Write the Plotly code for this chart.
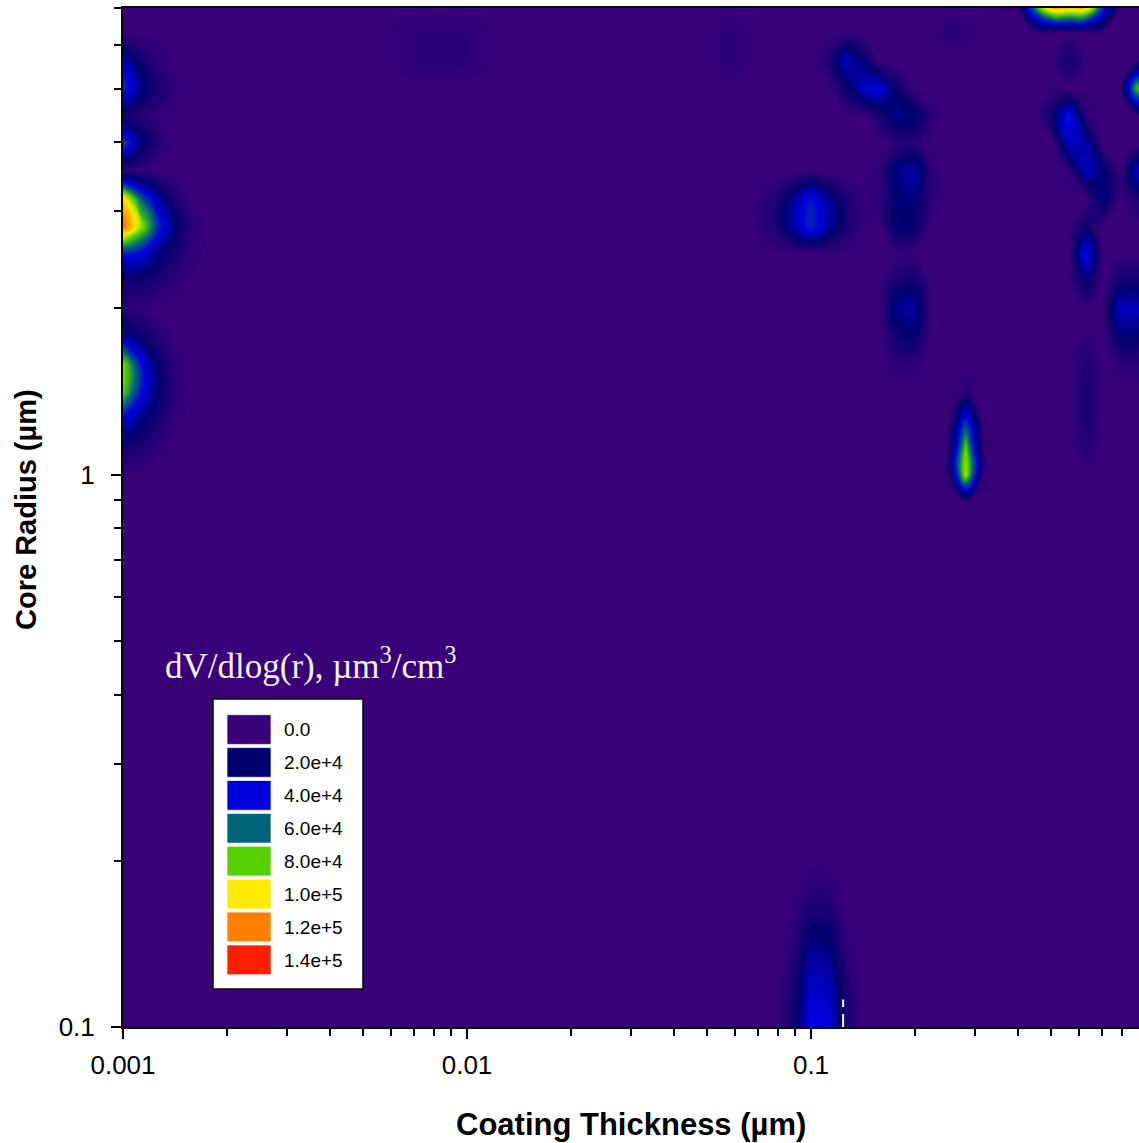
import math
import plotly.graph_objects as go

# ---------------- retrieval grid (bin centres, um) ----------------
thickness_um = [
    0.001000, 0.001122, 0.001259, 0.001413, 0.001585, 0.001778, 0.001995, 0.002239, 0.002512, 0.002818,
    0.003162, 0.003548, 0.003981, 0.004467, 0.005012, 0.005623, 0.006310, 0.007079, 0.007943, 0.008913,
    0.01000, 0.01122, 0.01259, 0.01413, 0.01585, 0.01778, 0.01995, 0.02239, 0.02512, 0.02818,
    0.03162, 0.03548, 0.03981, 0.04467, 0.05012, 0.05623, 0.06310, 0.07079, 0.07943, 0.08913,
    0.1000, 0.1122, 0.1259, 0.1413, 0.1585, 0.1778, 0.1995, 0.2239, 0.2512, 0.2818,
    0.3162, 0.3548, 0.3981, 0.4467, 0.5012, 0.5623, 0.6310, 0.7079, 0.7943, 0.8913,
    1.000,
]
radius_um = [
    0.1000, 0.1122, 0.1259, 0.1413, 0.1585, 0.1778, 0.1995, 0.2239, 0.2512, 0.2818,
    0.3162, 0.3548, 0.3981, 0.4467, 0.5012, 0.5623, 0.6310, 0.7079, 0.7943, 0.8913,
    1.000, 1.122, 1.259, 1.413, 1.585, 1.778, 1.995, 2.239, 2.512, 2.818,
    3.162, 3.548, 3.981, 4.467, 5.012, 5.623, 6.310, 7.079, 7.943,
]

# ---------------- non-zero cells: (thickness bin, radius bin, dV/dlog r in 1e4 um3/cm3) ----------------
blob_left_3um = [
    (0, 30, 10.5), (0, 29, 12.5), (0, 28, 4.5), (0, 27, 1.5), (0, 26, 0.3),
    (1, 30, 6.0), (1, 29, 9.0), (1, 28, 4.0), (1, 27, 1.5), (1, 26, 0.3),
    (2, 30, 3.0), (2, 29, 5.0), (2, 28, 2.5), (2, 27, 1.0),
    (3, 30, 1.0), (3, 29, 2.2), (3, 28, 1.2), (3, 27, 0.5),
    (4, 29, 0.6), (4, 28, 0.3),
]
blob_left_4um = [
    (0, 32, 5.5), (0, 31, 0.5), (1, 32, 2.5), (1, 31, 0.3), (2, 32, 0.8),
]
blob_left_5um = [
    (0, 35, 3.5), (0, 34, 5.0), (0, 33, 1.5),
    (1, 35, 1.5), (1, 34, 2.5), (1, 33, 0.8),
    (2, 35, 0.5), (2, 34, 1.2), (2, 33, 0.4), (3, 34, 0.4),
]
blob_left_1p5um = [
    (0, 26, 0.5), (0, 25, 3.0), (0, 24, 8.5), (0, 23, 8.0), (0, 22, 4.0), (0, 21, 1.5), (0, 20, 0.3),
    (1, 26, 0.3), (1, 25, 1.8), (1, 24, 4.5), (1, 23, 4.5), (1, 22, 2.5), (1, 21, 1.0),
    (2, 25, 0.8), (2, 24, 1.8), (2, 23, 2.0), (2, 22, 1.2), (2, 21, 0.5),
    (3, 24, 0.5), (3, 23, 0.6), (3, 22, 0.3),
]
blob_01_3um = [
    (37, 29, 0.3), (38, 29, 1.2), (39, 29, 3.0), (40, 29, 4.8), (41, 29, 3.0), (42, 29, 1.2), (43, 29, 0.3),
    (37, 30, 0.3), (38, 30, 1.0), (39, 30, 2.6), (40, 30, 4.4), (41, 30, 2.6), (42, 30, 1.0), (43, 30, 0.3),
]
blob_03_1um = [
    (49, 20, 9.0), (49, 21, 8.0), (49, 22, 4.5), (49, 23, 0.5),
    (48, 20, 0.4), (48, 21, 0.4), (50, 20, 0.4), (50, 21, 0.4),
]
blob_01_01um = [
    (40, 0, 4.2), (40, 1, 3.8), (40, 2, 3.2), (40, 3, 2.3), (40, 4, 1.4), (40, 5, 0.6),
    (41, 0, 4.0), (41, 1, 3.6), (41, 2, 3.0), (41, 3, 2.1), (41, 4, 1.3), (41, 5, 0.5),
    (39, 0, 1.5), (39, 1, 1.3), (39, 2, 1.0), (39, 3, 0.6), (39, 4, 0.3),
    (42, 0, 1.3), (42, 1, 1.1), (42, 2, 0.8), (42, 3, 0.5), (42, 4, 0.2),
]
blob_02_2um = [
    (45, 24, 0.5), (45, 25, 1.6), (45, 26, 2.6), (45, 27, 1.3),
    (46, 24, 0.5), (46, 25, 1.8), (46, 26, 2.9), (46, 27, 1.5),
]
blob_02_3p4um = [
    (45, 29, 2.3), (45, 30, 2.0), (45, 31, 2.4), (45, 32, 0.5),
    (46, 29, 1.8), (46, 30, 2.3), (46, 31, 3.1), (46, 32, 0.6),
    (44, 30, 0.4), (44, 31, 0.4), (47, 30, 0.5), (47, 31, 0.5),
]
blob_diag_mid = [
    (41, 35, 0.8), (42, 35, 3.5), (42, 34, 1.5), (43, 35, 2.0), (43, 34, 3.5), (44, 34, 4.0),
    (44, 33, 1.2), (45, 34, 1.5), (45, 33, 2.5), (46, 33, 2.2), (47, 33, 0.5),
]
blob_top_06um = [
    (53, 37, 7.0), (54, 37, 12.0), (55, 37, 12.0), (56, 37, 11.5), (57, 37, 5.0),
    (53, 38, 7.0), (54, 38, 12.0), (55, 38, 12.0), (56, 38, 11.5), (57, 38, 5.0),
]
blob_06_5p4um = [(55, 35, 1.6)]
blob_diag_right = [
    (54, 33, 1.5), (55, 33, 4.5), (55, 32, 3.5), (56, 33, 0.5), (56, 32, 3.0), (56, 31, 3.5),
    (55, 31, 0.5), (57, 31, 2.0), (57, 30, 2.5),
]
blob_edge_5um = [(59, 34, 8.0), (60, 34, 8.0)]
blob_edge_3p4um = [(59, 31, 3.5), (60, 31, 3.5), (59, 30, 1.0), (60, 30, 1.0)]
blob_065_2p5um = [(56, 28, 4.5), (56, 29, 1.5), (56, 27, 2.0)]
blob_edge_2um = [
    (58, 26, 3.5), (59, 26, 3.5), (60, 26, 3.5), (58, 27, 1.5), (59, 27, 1.5), (60, 27, 1.5),
    (58, 25, 2.0), (59, 25, 2.0), (60, 25, 2.0), (58, 24, 0.5), (59, 24, 0.5), (60, 24, 0.5),
]
blob_065_1p4um = [(56, 21, 0.8), (56, 22, 1.2), (56, 23, 1.2), (56, 24, 1.0), (56, 25, 0.3)]
blob_0008_6um = [
    (16, 35, 0.2), (17, 35, 0.4), (18, 35, 0.5), (19, 35, 0.5), (20, 35, 0.4), (21, 35, 0.2),
    (16, 36, 0.2), (17, 36, 0.4), (18, 36, 0.5), (19, 36, 0.5), (20, 36, 0.4), (21, 36, 0.2),
]
blob_006_6um = [(35, 35, 0.5), (35, 36, 0.5), (36, 35, 0.3), (36, 36, 0.3)]
blob_027_6p5um = [(48, 36, 0.6), (49, 36, 0.4)]

# small white dashed marker near the bottom axis
marker_thickness = [0.124, 0.124]
marker_radius = [0.1, 0.1122]

# legend levels
legend_values = [0, 2e4, 4e4, 6e4, 8e4, 1e5, 1.2e5, 1.4e5]
legend_labels = ["0.0", "2.0e+4", "4.0e+4", "6.0e+4", "8.0e+4", "1.0e+5", "1.2e+5", "1.4e+5"]
legend_colors = ["#3a0078", "#000070", "#0000dc", "#006478", "#55d200", "#ffeb00", "#ff8000", "#ff1e00"]

x_major = [0.001, 0.01, 0.1]
x_major_text = ["0.001", "0.01", "0.1"]
y_major = [0.1, 1]
y_major_text = ["0.1", "1"]
minor_mult = [2, 3, 4, 5, 6, 7, 8, 9]

# ---------------- build grid ----------------
blobs = [blob_left_3um, blob_left_4um, blob_left_5um, blob_left_1p5um, blob_01_3um, blob_03_1um,
         blob_01_01um, blob_02_2um, blob_02_3p4um, blob_diag_mid, blob_top_06um, blob_06_5p4um,
         blob_diag_right, blob_edge_5um, blob_edge_3p4um, blob_065_2p5um, blob_edge_2um,
         blob_065_1p4um, blob_0008_6um, blob_006_6um, blob_027_6p5um]
z = [[0.0 for _ in thickness_um] for _ in radius_um]
for blob in blobs:
    for c, r, v in blob:
        z[r][c] = max(z[r][c], v * 1e4)

zmax = legend_values[-1]
colorscale = [[v / zmax, c] for v, c in zip(legend_values, legend_colors)]

fig = go.Figure()
fig.add_trace(go.Contour(
    x=thickness_um, y=radius_um, z=z,
    colorscale=colorscale, zmin=0, zmax=zmax,
    contours=dict(start=1250, end=138750, size=2500, coloring="fill", showlines=False),
    line=dict(width=0, smoothing=1.3),
    showscale=False, hoverinfo="skip",
))
fig.add_trace(go.Scatter(
    x=marker_thickness, y=marker_radius, mode="lines",
    line=dict(color="white", width=2, dash="13px,7px,8px"),
    hoverinfo="skip", showlegend=False,
))

minor_x = [m * d for d in [0.001, 0.01, 0.1] for m in minor_mult]
minor_y = [m * d for d in [0.1, 1] for m in minor_mult]

tick_font = dict(family="Liberation Sans, Arial, sans-serif", size=26, color="black")
fig.update_xaxes(
    type="log", range=[-3, -0.0465], showgrid=False, zeroline=False,
    showline=True, linecolor="black", linewidth=2, mirror=True,
    ticks="outside", ticklen=10, tickwidth=1.5, tickcolor="black",
    tickmode="array", tickvals=x_major, ticktext=x_major_text, tickfont=tick_font,
    ticklabelstandoff=4,
    minor=dict(tickmode="array", tickvals=minor_x, ticks="outside", ticklen=7, tickwidth=1.5,
               tickcolor="black", showgrid=False),
)
fig.update_yaxes(
    type="log", range=[-1, math.log10(7)], showgrid=False, zeroline=False,
    showline=True, linecolor="black", linewidth=2, mirror=False,
    ticks="outside", ticklen=10, tickwidth=1.5, tickcolor="black",
    tickmode="array", tickvals=y_major, ticktext=y_major_text, tickfont=tick_font,
    ticklabelstandoff=11,
    minor=dict(tickmode="array", tickvals=minor_y, ticks="outside", ticklen=7, tickwidth=1.5,
               tickcolor="black", showgrid=False),
)

# pixel helpers for layout decorations (plot area: x 123..1139, y 8..1027)
def px(xp):
    return (xp - 123) / 1016.0

def py(yp):
    return (1027 - yp) / 1019.0

shapes = [dict(type="rect", xref="paper", yref="paper", x0=px(213), x1=px(363), y0=py(989), y1=py(699),
               fillcolor="white", line=dict(color="black", width=1.5), layer="above")]
annotations = []
for k, (lab, col) in enumerate(zip(legend_labels, legend_colors)):
    top = 714.7 + 32.9 * k
    shapes.append(dict(type="rect", xref="paper", yref="paper", x0=px(227), x1=px(271),
                       y0=py(top + 29.7), y1=py(top), fillcolor=col,
                       line=dict(color="rgba(255,255,255,0.7)", width=1), layer="above"))
    annotations.append(dict(text=lab, xref="paper", yref="paper", x=px(282), y=py(top + 15),
                            xanchor="left", yanchor="middle", showarrow=False,
                            font=dict(family="Liberation Sans, Arial, sans-serif", size=19, color="black")))

annotations.append(dict(text="dV/dlog(r), µm<sup>3</sup>/cm<sup>3</sup>", xref="paper", yref="paper",
                        x=px(163), y=py(663), xanchor="left", yanchor="middle", showarrow=False,
                        font=dict(family="Liberation Serif, Times New Roman, serif", size=35, color="#f2f2f2")))
annotations.append(dict(text="<b>Coating Thickness (µm)</b>", xref="paper", yref="paper",
                        x=px(631), y=py(1124), xanchor="center", yanchor="middle", showarrow=False,
                        font=dict(family="Liberation Sans, Arial, sans-serif", size=31, color="black")))
annotations.append(dict(text="<b>Core Radius (µm)</b>", xref="paper", yref="paper", textangle=-90,
                        x=px(26), y=py(510), xanchor="center", yanchor="middle", showarrow=False,
                        font=dict(family="Liberation Sans, Arial, sans-serif", size=29, color="black")))

fig.update_layout(
    width=1139, height=1143, margin=dict(l=123, r=0, t=8, b=116),
    paper_bgcolor="white", plot_bgcolor="#3a0078", showlegend=False,
    shapes=shapes, annotations=annotations,
)

fig.write_html("out.html")
